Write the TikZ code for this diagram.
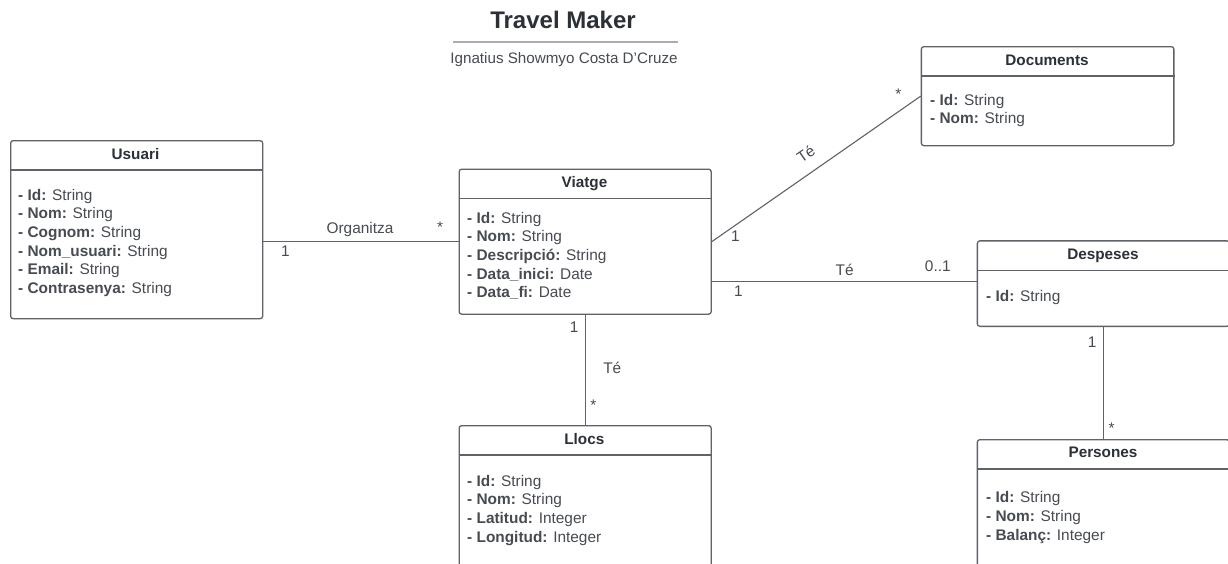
\documentclass[tikz,border=0pt]{standalone}
\usepackage{fontspec}
\setmainfont{Liberation Sans}
\usetikzlibrary{positioning}
\definecolor{ink}{HTML}{2C3037}
\definecolor{txt}{HTML}{474B52}
\definecolor{edge}{HTML}{5E6269}
\definecolor{rulegray}{HTML}{A9ADB3}
\newcommand{\fld}[2]{\textbf{- #1:} #2}

\begin{document}
\begin{tikzpicture}[x=1pt,y=-1pt,
  cls/.style={draw=edge,line width=1.3pt,rounded corners=2.5pt,fill=white,anchor=north west,inner sep=0pt},
  sep/.style={draw=edge,line width=1.3pt},
  head/.style={font=\bfseries\fontsize{15.3}{18}\selectfont,text=ink,anchor=base,inner sep=0pt},
  attr/.style={anchor=base west,align=left,font=\fontsize{15.4}{18.7}\selectfont,text=txt,inner sep=0pt},
  assoc/.style={draw=edge,line width=1.1pt},
  lbl/.style={font=\fontsize{15.4}{18}\selectfont,text=txt,anchor=base,inner sep=0pt}]
  \useasboundingbox (0,0) rectangle (1228,563);
  \fill[white] (0,0) rectangle (1228,563);
  \clip (0,0) rectangle (1228,563);

  % ===== title =====
  \node[font=\bfseries\fontsize{24}{28}\selectfont,text=ink,anchor=base] (title) at (563,28) {Travel Maker};
  \draw[rulegray,line width=1.2pt] (453,42) -- (678,42);
  \node[font=\fontsize{15.2}{18}\selectfont,text=txt,anchor=base] (author) at (564,63) {Ignatius Showmyo Costa D'Cruze};

  % ===== classes (attr nodes sit on the baseline of their last line) =====
  \node[cls,minimum width=252,minimum height=178] (usuari) at (10,140) {};
  \draw[sep] ([yshift=-30pt]usuari.north west) -- ([yshift=-30pt]usuari.north east);
  \node[head] (usuarih) at (135.5,159) {Usuari};
  \node[attr] (usuaria) at (18,293.5) {\fld{Id}{String}\\\fld{Nom}{String}\\\fld{Cognom}{String}\\\fld{Nom\_usuari}{String}\\\fld{Email}{String}\\\fld{Contrasenya}{String}};

  \node[cls,minimum width=252,minimum height=145] (viatge) at (458.5,168.5) {};
  \draw[sep] ([yshift=-30pt]viatge.north west) -- ([yshift=-30pt]viatge.north east);
  \node[head] (viatgeh) at (584.5,187.3) {Viatge};
  \node[attr] (viatgea) at (467,297.8) {\fld{Id}{String}\\\fld{Nom}{String}\\\fld{Descripció}{String}\\\fld{Data\_inici}{Date}\\\fld{Data\_fi}{Date}};

  \node[cls,minimum width=252.5,minimum height=99] (documents) at (920.7,46) {};
  \draw[sep] ([yshift=-30pt]documents.north west) -- ([yshift=-30pt]documents.north east);
  \node[head] (documentsh) at (1047,65.7) {Documents};
  \node[attr] (documentsa) at (930,123.7) {\fld{Id}{String}\\\fld{Nom}{String}};

  \node[cls,minimum width=252,minimum height=85.5] (despeses) at (976.7,240.2) {};
  \draw[sep] ([yshift=-30pt]despeses.north west) -- ([yshift=-30pt]despeses.north east);
  \node[head] (despesesh) at (1103,259.3) {Despeses};
  \node[attr] (despesesa) at (986,301.7) {\fld{Id}{String}};

  \node[cls,minimum width=252,minimum height=160] (llocs) at (458.5,425) {};
  \draw[sep] ([yshift=-30pt]llocs.north west) -- ([yshift=-30pt]llocs.north east);
  \node[head] (llocsh) at (584.3,444) {Llocs};
  \node[attr] (llocsa) at (467,542.1) {\fld{Id}{String}\\\fld{Nom}{String}\\\fld{Latitud}{Integer}\\\fld{Longitud}{Integer}};

  \node[cls,minimum width=252,minimum height=160] (persones) at (976.7,439) {};
  \draw[sep] ([yshift=-30pt]persones.north west) -- ([yshift=-30pt]persones.north east);
  \node[head] (personesh) at (1103,457.7) {Persones};
  \node[attr] (personesa) at (986,540.1) {\fld{Id}{String}\\\fld{Nom}{String}\\\fld{Balanç}{Integer}};

  % ===== associations =====
  \draw[assoc] (usuari.east |- viatge.west) -- (viatge.west);
  \node[lbl] at (360,233.3) {Organitza};
  \node[lbl] at (285.3,256.7) {1};
  \node[lbl] at (440,232.3) {*};

  \draw[assoc] (viatge.east) -- (documents.west) node[lbl,midway,above=12pt,sloped,anchor=south] {Té};
  \node[lbl] at (735.3,241.7) {1};
  \node[lbl] at (898.3,99.7) {*};

  \draw[assoc] (viatge.east |- despeses.west) ++(0,-2) -- ([yshift=2pt]despeses.west);
  \node[lbl] at (844.7,275) {Té};
  \node[lbl] at (937.8,271) {0..1};
  \node[lbl] at (738.5,296) {1};

  \draw[assoc] (viatge.south) -- (llocs.north);
  \node[lbl] at (574.2,332.7) {1};
  \node[lbl] at (612.3,373.3) {Té};
  \node[lbl] at (593.3,410.7) {*};

  \draw[assoc] (despeses.south) -- (persones.north);
  \node[lbl] at (1092.2,347.7) {1};
  \node[lbl] at (1111.7,433) {*};
\end{tikzpicture}
\end{document}
